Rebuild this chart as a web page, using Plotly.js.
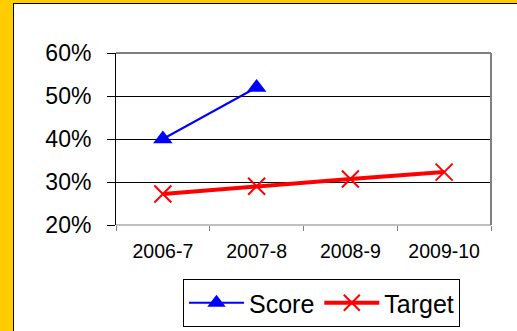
<!DOCTYPE html>
<html>
<head>
<meta charset="utf-8">
<script src="https://cdn.plot.ly/plotly-3.0.1.min.js"></script>
<style>
html,body{margin:0;padding:0;}
body{background:#FFCC00;width:517px;height:331px;position:relative;overflow:hidden;}
#panel{position:absolute;left:13px;top:3px;width:520px;height:340px;background:#fff;border:1px solid #000;box-sizing:border-box;}
#chart{position:absolute;left:0;top:0;width:517px;height:331px;}
</style>
</head>
<body>
<div id="panel"></div>
<div id="chart"></div>
<script>
const categories = ["2006-7", "2007-8", "2008-9", "2009-10"];
const scoreValues = [0.40, 0.52, null, null];
const targetValues = [0.272, 0.290, 0.307, 0.323];
const yTickValues = [0.2, 0.3, 0.4, 0.5, 0.6];
const yTickLabels = ["20%", "30%", "40%", "50%", "60%"];

const traces = [
  {
    x: categories, y: scoreValues, name: "Score", type: "scatter", mode: "lines+markers",
    line: {color: "#0000FF", width: 2},
    marker: {symbol: "triangle-up", size: 17, color: "#0000FF"}
  },
  {
    x: categories, y: targetValues, name: "Target", type: "scatter", mode: "lines+markers",
    line: {color: "#FF0000", width: 4},
    marker: {symbol: "x-thin-open", size: 17, color: "#FF0000", line: {color: "#FF0000", width: 2}}
  }
];

const layout = {
  width: 517, height: 331,
  paper_bgcolor: "rgba(0,0,0,0)",
  plot_bgcolor: "rgba(0,0,0,0)",
  margin: {l: 116, r: 26, t: 53, b: 106},
  font: {family: "Liberation Sans, Arial, sans-serif", color: "#000"},
  showlegend: true,
  xaxis: {
    type: "category", range: [-0.5, 3.5],
    tickson: "boundaries", ticks: "outside", ticklen: 5, tickcolor: "#808080",
    showgrid: false, showline: false, zeroline: false,
    tickfont: {size: 19.5}, ticklabelstandoff: 12
  },
  yaxis: {
    range: [0.2, 0.6], tickvals: yTickValues, ticktext: yTickLabels,
    ticks: "outside", ticklen: 8, tickcolor: "#000",
    showgrid: true, gridcolor: "#000", gridwidth: 1,
    showline: true, linecolor: "#000", linewidth: 1, zeroline: false,
    tickfont: {size: 23}, ticklabelstandoff: 11
  },
  shapes: [
    {type: "line", xref: "paper", yref: "paper", x0: 0, x1: 1, y0: 1, y1: 1, line: {color: "#808080", width: 2}},
    {type: "line", xref: "paper", yref: "paper", x0: 1, x1: 1, y0: 0, y1: 1, line: {color: "#808080", width: 2}},
    {type: "line", xref: "paper", yref: "paper", x0: 0, x1: 1, y0: 0, y1: 0, line: {color: "#808080", width: 1}}
  ],
  legend: {
    orientation: "h", xref: "container", yref: "container",
    x: 183/517, y: 1 - 279/331, xanchor: "left", yanchor: "top",
    bordercolor: "#000", borderwidth: 1, bgcolor: "#fff",
    font: {size: 25}, itemwidth: 55
  }
};

Plotly.newPlot("chart", traces, layout, {displayModeBar: false, staticPlot: true});
</script>
</body>
</html>
